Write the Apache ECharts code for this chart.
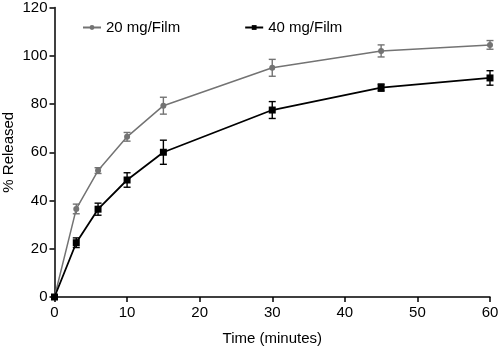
<!DOCTYPE html>
<html>
<head>
<meta charset="utf-8">
<script src="https://cdn.jsdelivr.net/npm/echarts@6/dist/echarts.min.js"></script>
<style>
  html, body { margin: 0; padding: 0; background: #fff; }
  #chart { width: 500px; height: 347px; }
</style>
</head>
<body>
<div id="chart"></div>
<script>
// time points (minutes)
var times = [0, 3, 6, 10, 15, 30, 45, 60];
// 20 mg/Film
var mean20 = [0, 36.5, 52.4, 66.4, 79.3, 95, 102, 104.5];
var err20 = [0, 2, 1.2, 1.8, 3.5, 3.5, 2.5, 1.8];
// 40 mg/Film
var mean40 = [0, 22.5, 36.4, 48.5, 60, 77.5, 86.8, 90.8];
var err40 = [0, 2, 2.5, 3, 5, 3.5, 1.5, 3];

var grey = '#737373';
var black = '#000';

function pairs(ys) {
    var out = [];
    for (var i = 0; i < times.length; i++) out.push([times[i], ys[i]]);
    return out;
}
function errData(ys, es) {
    var out = [];
    for (var i = 0; i < times.length; i++) out.push([times[i], ys[i] - es[i], ys[i] + es[i]]);
    return out;
}
function errSeries(ys, es, color) {
    return {
        type: 'custom',
        silent: true,
        z: 1,
        data: errData(ys, es),
        renderItem: function (params, api) {
            var lo = api.coord([api.value(0), api.value(1)]);
            var hi = api.coord([api.value(0), api.value(2)]);
            var w = 3.5;
            var st = { stroke: color, lineWidth: 1.4 };
            return {
                type: 'group',
                children: [
                    { type: 'line', shape: { x1: lo[0], y1: lo[1], x2: hi[0], y2: hi[1] }, style: st },
                    { type: 'line', shape: { x1: lo[0] - w, y1: lo[1], x2: lo[0] + w, y2: lo[1] }, style: st },
                    { type: 'line', shape: { x1: hi[0] - w, y1: hi[1], x2: hi[0] + w, y2: hi[1] }, style: st }
                ]
            };
        }
    };
}

var chart = echarts.init(document.getElementById('chart'));
var font = 'Liberation Sans, Arial, sans-serif';
chart.setOption({
    animation: false,
    textStyle: { fontFamily: font },
    grid: { left: 54.5, right: 10, top: 7.5, bottom: 50, containLabel: false, outerBoundsMode: 'none' },
    legend: {
        top: 15,
        left: 77,
        itemGap: 64,
        itemWidth: 18,
        itemHeight: 6,
        textStyle: { fontSize: 15, color: '#000', fontFamily: font },
        data: ['20 mg/Film', '40 mg/Film']
    },
    xAxis: {
        type: 'value',
        min: 0, max: 60, interval: 10,
        name: 'Time (minutes)',
        nameLocation: 'middle',
        nameGap: 34,
        nameMoveOverlap: false,
        nameTextStyle: { fontSize: 15, color: '#000' },
        axisLine: { lineStyle: { color: '#000', width: 1.5 } },
        axisTick: { show: true, length: 5, lineStyle: { color: '#000', width: 1.5 } },
        axisLabel: { fontSize: 15, color: '#000', margin: 8 },
        splitLine: { show: false }
    },
    yAxis: {
        type: 'value',
        min: 0, max: 120, interval: 20,
        name: '% Released',
        nameLocation: 'middle',
        nameGap: 38,
        nameMoveOverlap: false,
        nameTextStyle: { fontSize: 15, color: '#000' },
        axisLine: { show: true, lineStyle: { color: '#000', width: 1.5 } },
        axisTick: { show: true, length: 5, lineStyle: { color: '#000', width: 1.5 } },
        axisLabel: { fontSize: 15, color: '#000', margin: 7 },
        splitLine: { show: false }
    },
    series: [
        errSeries(mean20, err20, grey),
        errSeries(mean40, err40, black),
        {
            name: '20 mg/Film',
            type: 'line',
            z: 3,
            data: pairs(mean20),
            symbol: 'circle',
            symbolSize: 6,
            lineStyle: { color: grey, width: 1.5 },
            itemStyle: { color: grey }
        },
        {
            name: '40 mg/Film',
            type: 'line',
            z: 3,
            data: pairs(mean40),
            symbol: 'rect',
            symbolSize: 7,
            lineStyle: { color: black, width: 1.8 },
            itemStyle: { color: black }
        }
    ]
});
</script>
</body>
</html>
